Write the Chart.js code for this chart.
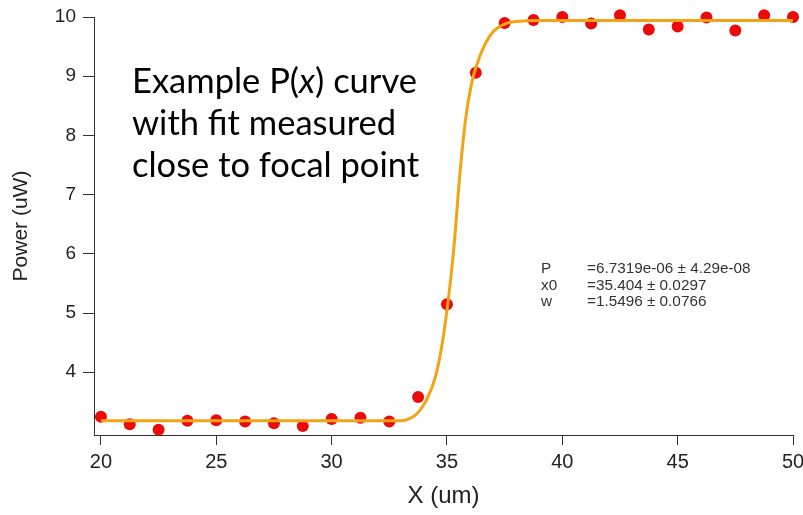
<!DOCTYPE html>
<html>
<head>
<meta charset="utf-8">
<script src="https://cdn.jsdelivr.net/npm/chart.js@4.4.1/dist/chart.umd.min.js"></script>
<style>
  body { margin: 0; background: #fff; }
  #wrap { width: 803px; height: 515px; position: relative; }
</style>
</head>
<body>
<div id="wrap"><canvas id="pxChart"></canvas></div>
<script>
// measured points
const scanX = [20, 21.25, 22.5, 23.75, 25, 26.25, 27.5, 28.75, 30, 31.25, 32.5, 33.75, 35,
  36.25, 37.5, 38.75, 40, 41.25, 42.5, 43.75, 45, 46.25, 47.5, 48.75, 50];
const powerValues = [3.25, 3.12, 3.03, 3.18, 3.19, 3.17, 3.14, 3.09, 3.21, 3.23, 3.17, 3.58, 5.15,
  9.06, 9.9, 9.95, 10.0, 9.89, 10.03, 9.79, 9.84, 9.99, 9.77, 10.03, 10.0];

// fit curve
const fitX = [20, 33, 33.4, 33.7, 34.1, 34.5, 34.8, 35.05, 35.3, 35.55, 35.8, 36.05, 36.3, 36.6, 37.0, 37.5, 38.2, 39, 50];
const fitY = [3.18, 3.18, 3.22, 3.3, 3.52, 3.92, 4.5, 5.2, 6.1, 7.3, 8.25, 8.85, 9.2, 9.5, 9.75, 9.88, 9.93, 9.94, 9.94];

const xTicks = [20, 25, 30, 35, 40, 45, 50];
const yTicks = [4, 5, 6, 7, 8, 9, 10];

const fitNames = ['P', 'x0', 'w'];
const fitResults = ['=6.7319e-06 \u00b1 4.29e-08', '=35.404 \u00b1 0.0297', '=1.5496 \u00b1 0.0766'];

const captionLines = [['Example P(', 'x', ') curve'], ['with fit measured'], ['close to focal point']];

const axisFont = "'Liberation Sans', Arial, sans-serif";

// text drawn on top of the chart
const notesPlugin = {
  id: 'notes',
  afterDraw(chart) {
    const ctx = chart.ctx;
    ctx.save();
    ctx.fillStyle = '#000';
    ctx.textBaseline = 'alphabetic';
    // work out caption size so the first line is about 285px wide
    let base = 30;
    const widthOf = (parts, s) => parts.reduce((w, p, i) => {
      ctx.font = (parts.length > 1 && i === 1 ? 'italic ' : '') + s + 'px Lato';
      return w + ctx.measureText(p).width;
    }, 0);
    const size = base * 285 / widthOf(captionLines[0], base);
    captionLines.forEach((parts, row) => {
      let x = 132;
      const y = 93 + row * 42;
      parts.forEach((p, i) => {
        ctx.font = (parts.length > 1 && i === 1 ? 'italic ' : '') + size + 'px Lato';
        ctx.fillText(p, x, y);
        x += ctx.measureText(p).width;
      });
    });

    ctx.font = '15.3px ' + axisFont;
    ctx.fillStyle = '#333';
    ctx.textBaseline = 'middle';
    fitNames.forEach((n, i) => {
      const y = 269 + i * 16.5;
      ctx.fillText(n, 541, y);
      ctx.fillText(fitResults[i], 587, y);
    });
    ctx.restore();
  }
};

const ctx = document.getElementById('pxChart').getContext('2d');
new Chart(ctx, {
  type: 'scatter',
  data: {
    datasets: [
      {
        type: 'line',
        label: 'fit',
        data: fitX.map((x, i) => ({ x: x, y: fitY[i] })),
        borderColor: '#F2A414',
        borderWidth: 3,
        pointRadius: 0,
        cubicInterpolationMode: 'monotone',
        fill: false,
        clip: false
      },
      {
        label: 'measured',
        data: scanX.map((x, i) => ({ x: x, y: powerValues[i] })),
        backgroundColor: '#EC0A0A',
        borderWidth: 0,
        pointRadius: 6,
        clip: false
      }
    ]
  },
  options: {
    responsive: true,
    maintainAspectRatio: false,
    animation: false,
    layout: { padding: { top: 17, right: 10, left: 0, bottom: 0 } },
    plugins: {
      legend: { display: false },
      tooltip: { enabled: false }
    },
    scales: {
      x: {
        type: 'linear',
        min: 19.7,
        max: 50,
        afterBuildTicks: s => { s.ticks = xTicks.map(v => ({ value: v })); },
        afterFit: s => { s.height = 80; s.paddingLeft = 0; s.paddingRight = 0; },
        border: { display: true, color: '#333', width: 1 },
        grid: { drawOnChartArea: false, drawTicks: true, tickLength: 10, color: '#333' },
        ticks: { font: { family: axisFont, size: 20 }, color: '#222', padding: 5, maxRotation: 0 },
        title: { display: true, text: 'X (um)', font: { family: axisFont, size: 24 }, color: '#222', padding: { top: 0, bottom: 4 } }
      },
      y: {
        type: 'linear',
        min: 2.94,
        max: 10,
        afterBuildTicks: s => { s.ticks = yTicks.map(v => ({ value: v })); },
        afterFit: s => { s.width = 94; s.paddingTop = 0; s.paddingBottom = 0; },
        border: { display: true, color: '#333', width: 1 },
        grid: { drawOnChartArea: false, drawTicks: true, tickLength: 11, color: '#333' },
        ticks: { font: { family: axisFont, size: 19 }, color: '#222', padding: 7 },
        title: { display: true, text: 'Power (uW)', font: { family: axisFont, size: 21 }, color: '#222', padding: { top: 9, bottom: 0 } }
      }
    }
  },
  plugins: [notesPlugin]
});
</script>
</body>
</html>
